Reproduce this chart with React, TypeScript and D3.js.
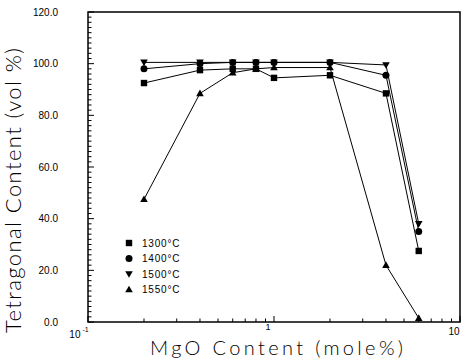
import React from "react";
import * as d3 from "d3";

// MgO content (mol %) at which the samples were measured
const mgo = [0.2, 0.4, 0.6, 0.8, 1, 2, 4, 6];

// Tetragonal content (vol %) for each sintering temperature
const t1300 = [92.5, 97.5, 98, 98, 94.5, 95.5, 88.5, 27.5];
const t1400 = [98, 100, 100.5, 100.5, 100.5, 100.5, 95.5, 35];
const t1500 = [100.5, 100.5, 100.5, 100.5, 100.5, 100.5, 99.5, 38];
const t1550 = [47.5, 88.5, 96.5, 98, 98.5, 98.5, 22, 1.5];

const seriesNames = ["1300°C", "1400°C", "1500°C", "1550°C"];
const seriesValues = [t1300, t1400, t1500, t1550];
const seriesMarkers = ["square", "circle", "down", "up"];

const yTicks = [0, 20, 40, 60, 80, 100, 120];
const yTickLabels = ["0.0", "20.0", "40.0", "60.0", "80.0", "100.0", "120.0"];
const xDecades = [0.1, 1, 10];

const W = 466;
const H = 360;
const M = { left: 88, right: 6, top: 12, bottom: 38 };

function Marker({ kind, x, y }: { kind: string; x: number; y: number }) {
  const s = 3.2;
  if (kind === "square") {
    return <rect x={x - s} y={y - s} width={2 * s} height={2 * s} fill="#000" />;
  }
  if (kind === "circle") {
    return <circle cx={x} cy={y} r={s + 0.3} fill="#000" />;
  }
  if (kind === "down") {
    return (
      <path
        d={`M${x - s - 0.6},${y - s + 0.4}L${x + s + 0.6},${y - s + 0.4}L${x},${y + s + 0.6}Z`}
        fill="#000"
      />
    );
  }
  return (
    <path
      d={`M${x - s - 0.6},${y + s - 0.4}L${x + s + 0.6},${y + s - 0.4}L${x},${y - s - 0.6}Z`}
      fill="#000"
    />
  );
}

export default function App() {
  const x = d3.scaleLog().domain([0.1, 10]).range([M.left, W - M.right]);
  const y = d3.scaleLinear().domain([0, 120]).range([H - M.bottom, M.top]);

  const line = d3
    .line<number>()
    .x((_, i) => x(mgo[i]))
    .y((d) => y(d));

  const yMinor = d3.range(0, 121, 2);
  const xMinor: number[] = [];
  [0.1, 1].forEach((dec) => {
    for (let k = 1; k <= 9; k++) xMinor.push(dec * k);
  });
  xMinor.push(10);

  const x0 = M.left;
  const x1 = W - M.right;
  const y0 = H - M.bottom;
  const y1 = M.top;

  const legendX = 129;
  const legendY = 243;
  const legendStep = 15.5;

  const titleFont = "Lato, 'Open Sans', 'Liberation Sans', sans-serif";

  return (
    <svg
      width={W}
      height={H}
      style={{ position: "absolute", left: 0, top: 0, background: "#fff" }}
      fontFamily="'Liberation Sans', Arial, sans-serif"
    >
      <rect x={0} y={0} width={W} height={H} fill="#fff" />

      {/* series lines */}
      {seriesValues.map((vals, si) => (
        <path
          key={"l" + si}
          d={line(vals) || ""}
          fill="none"
          stroke="#000"
          strokeWidth={1}
        />
      ))}

      {/* series markers */}
      {seriesValues.map((vals, si) =>
        vals.map((v, i) => (
          <Marker key={`m${si}-${i}`} kind={seriesMarkers[si]} x={x(mgo[i])} y={y(v)} />
        ))
      )}

      {/* frame */}
      <rect
        x={x0}
        y={y1}
        width={x1 - x0}
        height={y0 - y1}
        fill="none"
        stroke="#000"
        strokeWidth={1.5}
      />

      {/* y ticks */}
      {yMinor.map((t) => (
        <line
          key={"yt" + t}
          x1={x0}
          x2={x0 + (t % 20 === 0 ? 6 : 3.5)}
          y1={y(t)}
          y2={y(t)}
          stroke="#000"
          strokeWidth={1}
        />
      ))}
      {yTicks.map((t, i) => (
        <text
          key={"yl" + t}
          x={58}
          y={y(t)}
          dy="0.35em"
          textAnchor="end"
          fontSize={10}
          fill="#000"
        >
          {yTickLabels[i]}
        </text>
      ))}

      {/* x ticks */}
      {xMinor.map((t, i) => {
        const major = xDecades.some((d) => Math.abs(d - t) < 1e-9);
        return (
          <line
            key={"xt" + i}
            x1={x(t)}
            x2={x(t)}
            y1={y0}
            y2={y0 - (major ? 6 : 3.5)}
            stroke="#000"
            strokeWidth={1}
          />
        );
      })}
      <text x={x(0.1) - 9} y={338} textAnchor="middle" fontSize={10} fill="#000">
        10
        <tspan dy={-6} fontSize={7}>
          {" -1"}
        </tspan>
      </text>
      <text x={x(1) - 6} y={330} textAnchor="middle" fontSize={9} fill="#000">
        1
      </text>
      <text x={x(10) - 6} y={335} textAnchor="middle" fontSize={10} fill="#000">
        10
      </text>

      {/* axis titles */}
      <text
        x={150}
        y={355}
        fontSize={20}
        fontFamily={titleFont}
        fontWeight={300}
        textLength={253}
        lengthAdjust="spacing"
        fill="#000"
      >
        MgO Content (mole%)
      </text>
      <text
        transform={`translate(21,333) rotate(-90)`}
        x={0}
        y={0}
        fontSize={22}
        fontFamily={titleFont}
        fontWeight={300}
        textLength={285}
        lengthAdjust="spacing"
        fill="#000"
      >
        Tetragonal Content (vol %)
      </text>

      {/* legend */}
      {seriesNames.map((name, i) => (
        <g key={"lg" + i}>
          <Marker kind={seriesMarkers[i]} x={legendX} y={legendY + i * legendStep} />
          <text
            x={legendX + 13}
            y={legendY + i * legendStep}
            dy="0.35em"
            fontSize={10}
            letterSpacing={0.8}
            fill="#000"
          >
            {name}
          </text>
        </g>
      ))}
    </svg>
  );
}
